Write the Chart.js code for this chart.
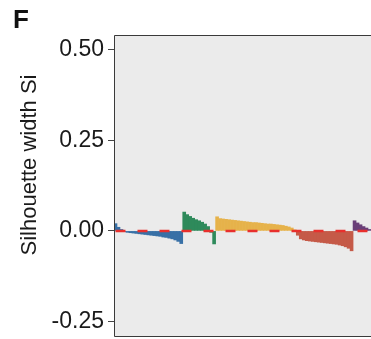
<!DOCTYPE html>
<html>
<head>
<meta charset="utf-8">
<script src="https://cdn.jsdelivr.net/npm/chart.js@4/dist/chart.umd.min.js"></script>
<style>
html,body{margin:0;padding:0;background:#ffffff;}
#wrap{width:371px;height:339px;position:relative;}
</style>
</head>
<body>
<div id="wrap"><canvas id="c" width="371" height="339"></canvas></div>
<script>
// Silhouette widths per cluster (sorted within cluster)
const cluster1 = [0.02, 0.01, 0.004, -0.002, -0.004, -0.005, -0.006, -0.007, -0.008, -0.009, -0.010, -0.011, -0.012, -0.013, -0.014, -0.015, -0.017, -0.018, -0.020, -0.022, -0.025, -0.029, -0.035];
const cluster2 = [0.052, 0.045, 0.040, 0.035, 0.031, 0.028, 0.024, 0.019, 0.012, -0.004, -0.036];
const cluster3 = [0.039, 0.034, 0.033, 0.032, 0.031, 0.030, 0.029, 0.028, 0.027, 0.026, 0.025, 0.024, 0.023, 0.023, 0.022, 0.021, 0.020, 0.019, 0.019, 0.018, 0.017, 0.016, 0.015, 0.013, 0.011, 0.008, 0.003];
const cluster4 = [-0.012, -0.022, -0.025, -0.027, -0.028, -0.029, -0.030, -0.031, -0.032, -0.033, -0.034, -0.035, -0.036, -0.037, -0.039, -0.041, -0.044, -0.048, -0.055];
const cluster5 = [0.028, 0.022, 0.017, 0.012, 0.008, 0.004];
const clusterColors = ['#3870A6', '#2E8A5B', '#E6B24A', '#C55A48', '#6A3F78'];
const yTicks = [-0.25, 0, 0.25, 0.5];
const yTitle = 'Silhouette width Si';
const panelLetter = 'F';
const meanLine = 0;

const clusters = [cluster1, cluster2, cluster3, cluster4, cluster5];
const values = [];
const colors = [];
clusters.forEach((arr, ci) => arr.forEach(v => { values.push(v); colors.push(clusterColors[ci]); }));
const labels = values.map((_, i) => String(i + 1));

const FONT = '"Liberation Sans", Arial, sans-serif';

const panelPlugin = {
  id: 'panel',
  beforeDatasetsDraw(chart) {
    const {ctx, chartArea: a} = chart;
    ctx.save();
    ctx.fillStyle = '#EBEBEB';
    ctx.fillRect(a.left, a.top, a.right - a.left, a.bottom - a.top);
    ctx.restore();
  },
  afterDatasetsDraw(chart) {
    const {ctx, chartArea: a} = chart;
    ctx.save();
    ctx.strokeStyle = '#3a3a3a';
    ctx.lineWidth = 1;
    ctx.beginPath();
    ctx.moveTo(chart.width + 1, a.top + 0.5);
    ctx.lineTo(a.left + 0.5, a.top + 0.5);
    ctx.lineTo(a.left + 0.5, a.bottom - 0.5);
    ctx.lineTo(chart.width + 1, a.bottom - 0.5);
    ctx.stroke();
    ctx.restore();
  },
  afterDraw(chart) {
    const {ctx} = chart;
    ctx.save();
    ctx.fillStyle = '#111';
    ctx.font = 'bold 26px ' + FONT;
    ctx.textBaseline = 'alphabetic';
    ctx.fillText(panelLetter, 13, 28);
    ctx.translate(30, 165);
    ctx.rotate(-Math.PI / 2);
    ctx.font = '22px ' + FONT;
    ctx.fillStyle = '#1a1a1a';
    ctx.textAlign = 'center';
    ctx.textBaseline = 'middle';
    ctx.fillText(yTitle, 0, 0);
    ctx.restore();
  }
};

new Chart(document.getElementById('c'), {
  data: {
    labels: labels,
    datasets: [
      {
        type: 'line',
        data: values.map(() => meanLine),
        borderColor: '#E8302D',
        borderWidth: 2.5,
        borderDash: [10, 12],
        pointRadius: 0,
        order: 0
      },
      {
        type: 'bar',
        data: values,
        backgroundColor: colors,
        borderWidth: 0,
        barPercentage: 1,
        categoryPercentage: 1,
        order: 1
      }
    ]
  },
  options: {
    responsive: false,
    animation: false,
    layout: {padding: {top: 35, bottom: 2, left: 0, right: 0}},
    plugins: {legend: {display: false}, tooltip: {enabled: false}},
    scales: {
      x: {display: false},
      y: {
        min: -0.293,
        max: 0.541,
        afterBuildTicks(scale) { scale.ticks = yTicks.map(v => ({value: v})); },
        afterFit(scale) { scale.width = 114; scale.paddingTop = 0; scale.paddingBottom = 0; },
        grid: {drawOnChartArea: false, drawTicks: true, tickLength: 6, color: '#444'},
        border: {display: false},
        ticks: {
          padding: 4,
          color: '#1a1a1a',
          font: {family: FONT, size: 23},
          callback: v => v.toFixed(2)
        },
        title: {display: false}
      }
    }
  },
  plugins: [panelPlugin]
});
</script>
</body>
</html>
